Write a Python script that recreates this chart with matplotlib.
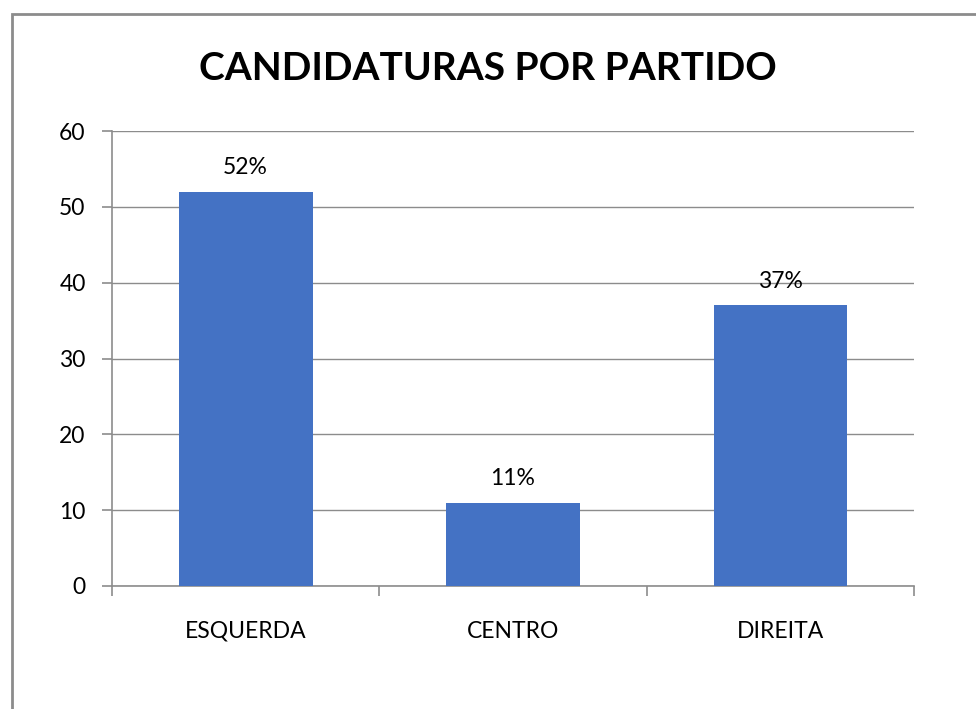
import matplotlib.pyplot as plt
from matplotlib.patches import Rectangle

categories = ['ESQUERDA', 'CENTRO', 'DIREITA']
values = [52, 11, 37]
labels = ['52%', '11%', '37%']

plt.rcParams['font.family'] = ['Lato', 'DejaVu Sans']

fig = plt.figure(figsize=(9.76, 7.09), dpi=100)
ax = fig.add_axes([0.1148, 0.1735, 0.8217, 0.6417])

# outer chart border (right and bottom edges fall outside the image)
fig.patches.append(Rectangle((12 / 976, -0.05), 1.2, 1 - 14 / 709 + 0.05,
                             transform=fig.transFigure, fill=False,
                             edgecolor='#8c8c8c', linewidth=2))

x = range(len(categories))
ax.bar(x, values, width=0.5, color='#4472C4', zorder=3)
for i, (v, lab) in enumerate(zip(values, labels)):
    ax.annotate(lab, (i, v), xytext=(0, 10), textcoords='offset points',
                ha='center', va='bottom', fontsize=16.5)

ax.set_xlim(-0.5, 2.5)
ax.set_ylim(0, 60)
ax.set_yticks(range(0, 61, 10))
ax.set_xticks(x)
ax.set_xticklabels(categories)
ax.set_xticks([-0.5, 0.5, 1.5, 2.5], minor=True)
ax.tick_params(axis='x', which='major', length=0, pad=25, labelsize=16.5)
ax.tick_params(axis='x', which='minor', length=7, color='#8c8c8c', width=1.2)
ax.tick_params(axis='y', length=7, color='#8c8c8c', width=1.2, labelsize=16.5, pad=12)
ax.yaxis.grid(True, color='#8c8c8c', linewidth=1, zorder=0)
for s in ['top', 'right']:
    ax.spines[s].set_visible(False)
for s in ['left', 'bottom']:
    ax.spines[s].set_color('#8c8c8c')
    ax.spines[s].set_linewidth(1.2)

fig.text(0.5 * (200 + 775) / 976, 1 - 68 / 709, 'CANDIDATURAS POR PARTIDO',
         ha='center', va='center', fontsize=28, fontweight='bold')

fig.savefig('out.png', dpi=100)
